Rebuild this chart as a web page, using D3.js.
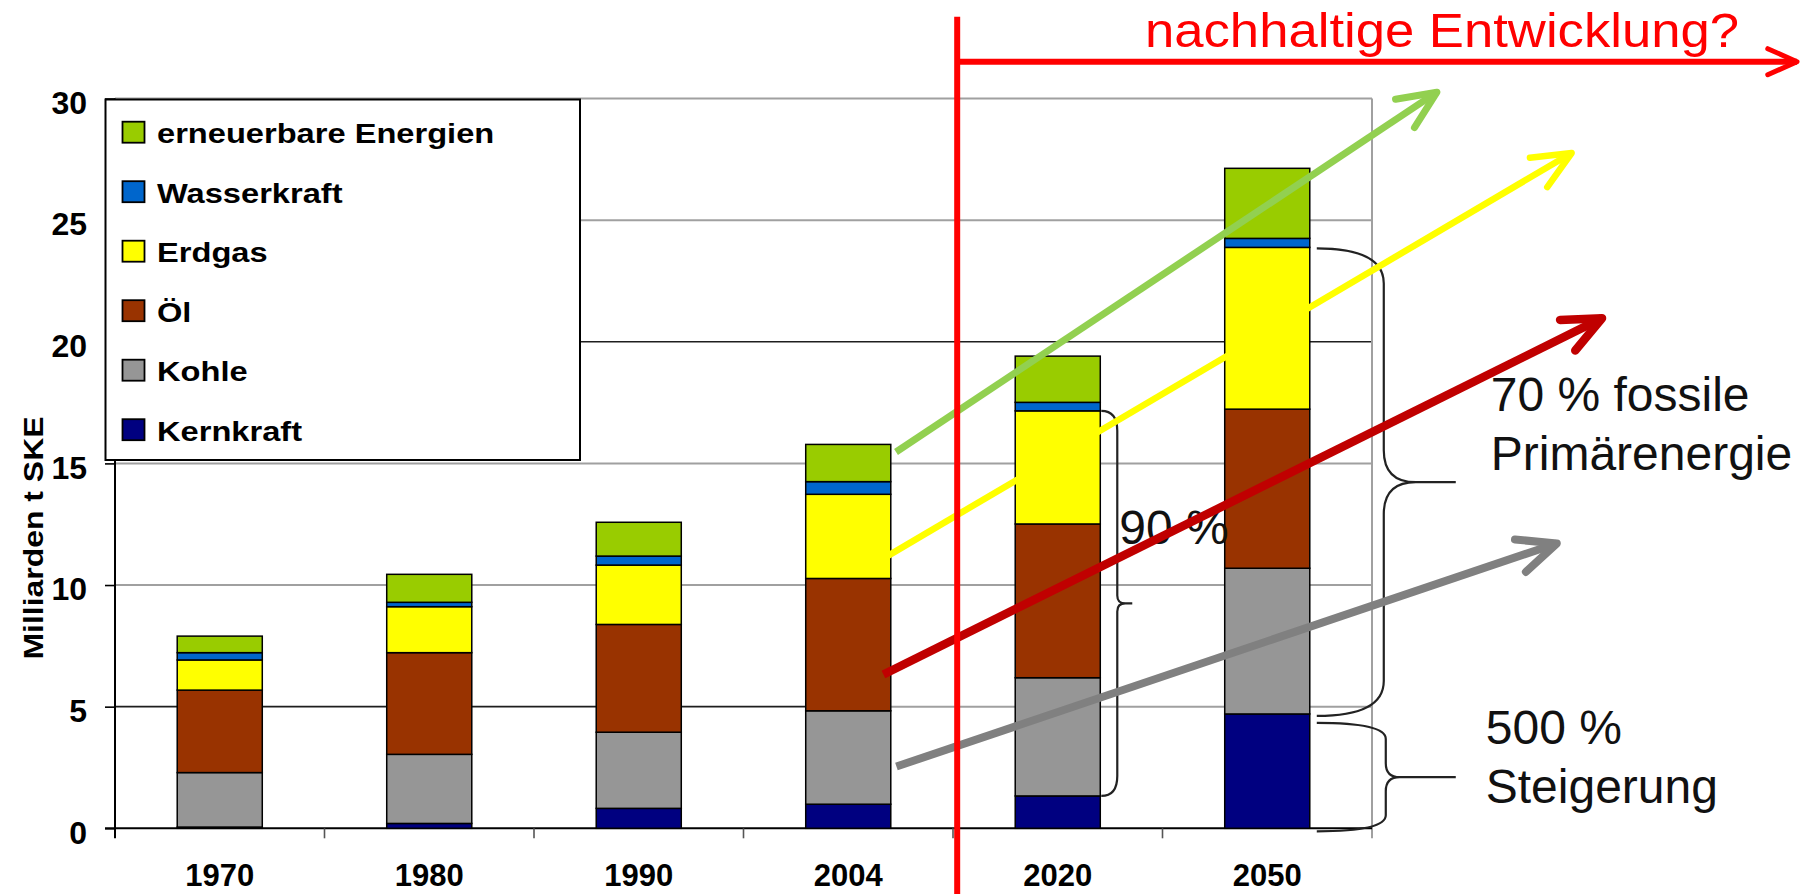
<!DOCTYPE html>
<html>
<head>
<meta charset="utf-8">
<script src="https://cdn.jsdelivr.net/npm/d3@7"></script>
<style>
  html, body { margin: 0; padding: 0; background: #fff; }
  svg { display: block; }
  text { font-family: "Liberation Sans", Arial, Helvetica, sans-serif; }
</style>
</head>
<body>
<svg id="chart" width="1812" height="894"></svg>
<script>
// Weltprimärenergieverbrauch in Milliarden t SKE, gestapelt nach Energieträger
const years = ["1970", "1980", "1990", "2004", "2020", "2050"];
const seriesNames = ["Kernkraft", "Kohle", "Öl", "Erdgas", "Wasserkraft", "erneuerbare Energien"];
const kernkraft   = [0.05, 0.20, 0.82, 0.99, 1.33, 4.70];
const kohle       = [2.24, 2.84, 3.13, 3.84, 4.86, 5.99];
const oel         = [3.39, 4.18, 4.43, 5.44, 6.32, 6.54];
const erdgas      = [1.24, 1.89, 2.44, 3.46, 4.65, 6.65];
const wasserkraft = [0.30, 0.18, 0.37, 0.52, 0.35, 0.37];
const erneuerbare = [0.68, 1.15, 1.39, 1.53, 1.90, 2.88];
const yTicks = [0, 5, 10, 15, 20, 25, 30];

const seriesValues = {
  "Kernkraft": kernkraft,
  "Kohle": kohle,
  "Öl": oel,
  "Erdgas": erdgas,
  "Wasserkraft": wasserkraft,
  "erneuerbare Energien": erneuerbare
};
const colors = {
  "Kernkraft": "#000080",
  "Kohle": "#969696",
  "Öl": "#993300",
  "Erdgas": "#ffff00",
  "Wasserkraft": "#0066cc",
  "erneuerbare Energien": "#99cc00"
};

// Trend arrows: positions given as (category position, value)
const trendArrows = [
  { color: "#92d050", width: 7,   from: [3.228, 15.47], to: [5.81,  30.26] },
  { color: "#ffff00", width: 6.5, from: [3.187, 11.19], to: [6.453, 27.76] },
  { color: "#c00000", width: 8.5, from: [3.168, 6.32],  to: [6.598, 20.97] },
  { color: "#808080", width: 8,   from: [3.230, 2.54],  to: [6.382, 11.71] }
];

const W = 1812, H = 894;
const plot = { left: 115, right: 1372, top: 98.5, bottom: 828.3 };
const svg = d3.select("#chart");

const rows = years.map((yr, i) => {
  const r = { year: yr };
  seriesNames.forEach(s => { r[s] = seriesValues[s][i]; });
  return r;
});
const stacked = d3.stack().keys(seriesNames)(rows);

const x = d3.scaleBand().domain(years)
  .range([plot.left, plot.right]).paddingInner(0.594).paddingOuter(0.297);
const xPos = d3.scaleLinear().domain([-0.5, years.length - 0.5]).range([plot.left, plot.right]);
const y = d3.scaleLinear().domain([0, 30]).range([plot.bottom, plot.top]);

// Gridlines
const grid = svg.append("g");
yTicks.filter(t => t > 0).forEach(t => {
  if (t === 20) {
    grid.append("line").attr("x1", plot.left).attr("x2", plot.right)
      .attr("y1", y(t)).attr("y2", y(t)).attr("stroke", "#1e1e1e").attr("stroke-width", 1.6);
  } else if (t === 5) {
    const xs = x("2004");
    grid.append("line").attr("x1", plot.left).attr("x2", xs)
      .attr("y1", y(t)).attr("y2", y(t)).attr("stroke", "#1e1e1e").attr("stroke-width", 1.6);
    grid.append("line").attr("x1", xs).attr("x2", plot.right)
      .attr("y1", y(t)).attr("y2", y(t)).attr("stroke", "#a0a0a0").attr("stroke-width", 2);
  } else {
    grid.append("line").attr("x1", plot.left).attr("x2", plot.right)
      .attr("y1", y(t)).attr("y2", y(t)).attr("stroke", "#a0a0a0").attr("stroke-width", 2);
  }
});
// right border of plot area
grid.append("line").attr("x1", plot.right).attr("x2", plot.right)
  .attr("y1", plot.top).attr("y2", plot.bottom + 10)
  .attr("stroke", "#a0a0a0").attr("stroke-width", 2);

// Y axis
const yAxis = d3.axisLeft(y).tickValues(yTicks).tickSize(10).tickSizeOuter(0).tickPadding(18);
const gy = svg.append("g").attr("transform", `translate(${plot.left},0)`).call(yAxis);
gy.select(".domain").remove();
gy.selectAll(".tick line").attr("stroke", "#000").attr("stroke-width", 1.6);
gy.selectAll(".tick text")
  .attr("dy", "0.46em")
  .style("font-size", "32px").style("font-weight", "bold").attr("fill", "#000");
svg.append("line").attr("x1", plot.left).attr("x2", plot.left)
  .attr("y1", plot.top).attr("y2", plot.bottom + 10)
  .attr("stroke", "#000").attr("stroke-width", 2);

// Y axis title
svg.append("text")
  .attr("transform", "translate(43.3,538) rotate(-90)")
  .attr("text-anchor", "middle")
  .style("font-size", "27px").style("font-weight", "bold").attr("fill", "#000")
  .attr("textLength", 243).attr("lengthAdjust", "spacingAndGlyphs")
  .text("Milliarden t SKE");

// X axis
const xAxis = d3.axisBottom(x).tickSize(0).tickPadding(36);
const gx = svg.append("g").attr("transform", `translate(0,${plot.bottom})`).call(xAxis);
gx.select(".domain").remove();
gx.selectAll(".tick text")
  .style("font-size", "31px").style("font-weight", "bold").attr("fill", "#000");
svg.append("line").attr("x1", plot.left - 10).attr("x2", plot.right)
  .attr("y1", plot.bottom).attr("y2", plot.bottom)
  .attr("stroke", "#000").attr("stroke-width", 2);
d3.range(1, years.length).forEach(i => {
  svg.append("line").attr("x1", xPos(i - 0.5)).attr("x2", xPos(i - 0.5))
    .attr("y1", plot.bottom).attr("y2", plot.bottom + 10)
    .attr("stroke", "#555").attr("stroke-width", 1.6);
});

// Stacked bars
svg.append("g").selectAll("g").data(stacked).join("g")
  .attr("fill", d => colors[d.key])
  .selectAll("rect").data(d => d).join("rect")
  .attr("x", d => x(d.data.year))
  .attr("width", x.bandwidth())
  .attr("y", d => y(d[1]))
  .attr("height", d => y(d[0]) - y(d[1]))
  .attr("stroke", "#000").attr("stroke-width", 1.5);

// Curly braces
function bracePath(xa, ya, yb, spine, tip, r0, r1) {
  const ym = (ya + yb) / 2, xs = xa + spine, xt = xa + tip;
  return `M${xa},${ya} Q${xs},${ya} ${xs},${ya + r0} L${xs},${ym - r1} ` +
         `Q${xs},${ym} ${xs + r1},${ym} L${xt},${ym} M${xs + r1},${ym} ` +
         `Q${xs},${ym} ${xs},${ym + r1} L${xs},${yb - r0} Q${xs},${yb} ${xa},${yb}`;
}
const cum = (series, i) => stacked[seriesNames.indexOf(series)][i][1];
const i2020 = years.indexOf("2020"), i2050 = years.indexOf("2050");
const right2020 = x("2020") + x.bandwidth();
const right2050 = x("2050") + x.bandwidth();
const braces = [
  { xa: right2020 + 1, ya: y(cum("Erdgas", i2020)), yb: y(cum("Kernkraft", i2020)), spine: 16, tip: 31, r0: 20, r1: 8 },
  { xa: right2050 + 7, ya: y(cum("Erdgas", i2050)) + 1, yb: y(cum("Kernkraft", i2050)) + 2, spine: 67, tip: 139, r0: 35, r1: 32 },
  { xa: right2050 + 7, ya: y(cum("Kernkraft", i2050)) + 9, yb: y(0) + 3, spine: 69, tip: 139, r0: 16, r1: 14 }
];
const braceG = svg.append("g");
braces.forEach(b => {
  braceG.append("path").attr("d", bracePath(b.xa, b.ya, b.yb, b.spine, b.tip, b.r0, b.r1))
    .attr("fill", "none").attr("stroke", "#222").attr("stroke-width", 2.2);
});

// Brace labels
const labelG = svg.append("g").attr("fill", "#111").style("font-size", "48px");
const tip = b => ({ x: b.xa + b.tip, y: (b.ya + b.yb) / 2 });
const t0 = tip(braces[0]), t1 = tip(braces[1]), t2 = tip(braces[2]);
labelG.append("text").attr("x", t0.x - 13).attr("y", t0.y - 59).text("90 %");
labelG.append("text").attr("x", t1.x + 35).attr("y", t1.y - 71).text("70 % fossile");
labelG.append("text").attr("x", t1.x + 35).attr("y", t1.y - 12).text("Primärenergie");
labelG.append("text").attr("x", t2.x + 30).attr("y", t2.y - 33).text("500 %");
labelG.append("text").attr("x", t2.x + 30).attr("y", t2.y + 26).text("Steigerung");

// Trend arrows
function chevron(tx, ty, angle, len, spread) {
  const back = angle + Math.PI;
  const a1 = back + spread, a2 = back - spread;
  return `M${tx + len * Math.cos(a1)},${ty + len * Math.sin(a1)} L${tx},${ty} ` +
         `L${tx + len * Math.cos(a2)},${ty + len * Math.sin(a2)}`;
}
const arrowG = svg.append("g");
trendArrows.forEach(a => {
  const x1 = xPos(a.from[0]), y1 = y(a.from[1]);
  const x2 = xPos(a.to[0]), y2 = y(a.to[1]);
  const ang = Math.atan2(y2 - y1, x2 - x1);
  arrowG.append("line").attr("x1", x1).attr("y1", y1).attr("x2", x2).attr("y2", y2)
    .attr("stroke", a.color).attr("stroke-width", a.width);
  arrowG.append("path").attr("d", chevron(x2, y2, ang, 42, 24 * Math.PI / 180))
    .attr("fill", "none").attr("stroke", a.color).attr("stroke-width", a.width)
    .attr("stroke-linecap", "round").attr("stroke-linejoin", "round");
});

// Divider between past values and projections, with heading arrow
const divX = xPos(3.52);
const headY = 61.7, headEnd = 1797;
const redG = svg.append("g");
redG.append("line").attr("x1", divX).attr("x2", divX).attr("y1", 16.7).attr("y2", H)
  .attr("stroke", "#ff0000").attr("stroke-width", 6);
redG.append("line").attr("x1", divX).attr("x2", headEnd).attr("y1", headY).attr("y2", headY)
  .attr("stroke", "#ff0000").attr("stroke-width", 6);
redG.append("path").attr("d", chevron(headEnd, headY, 0, 32, 24 * Math.PI / 180))
  .attr("fill", "none").attr("stroke", "#ff0000").attr("stroke-width", 5)
  .attr("stroke-linecap", "round").attr("stroke-linejoin", "round");
redG.append("text").attr("x", 1145).attr("y", 46.7)
  .attr("fill", "#ff0000").style("font-size", "48px")
  .attr("textLength", 594).attr("lengthAdjust", "spacingAndGlyphs")
  .text("nachhaltige Entwicklung?");

// Legend
const legend = svg.append("g");
legend.append("rect").attr("x", 105.5).attr("y", 99.5).attr("width", 474.5).attr("height", 360.5)
  .attr("fill", "#fff").attr("stroke", "#000").attr("stroke-width", 2);
seriesNames.slice().reverse().forEach((s, i) => {
  const base = 143.3 + i * 59.5;
  legend.append("rect").attr("x", 122.5).attr("y", base - 21.6).attr("width", 22).attr("height", 21)
    .attr("fill", colors[s]).attr("stroke", "#000").attr("stroke-width", 1.8);
  const t = legend.append("text").attr("x", 157).attr("y", base)
    .style("font-size", "28px").style("font-weight", "bold").attr("fill", "#000").text(s);
  t.attr("textLength", t.node().getComputedTextLength() * 1.165).attr("lengthAdjust", "spacingAndGlyphs");
});
</script>
</body>
</html>
